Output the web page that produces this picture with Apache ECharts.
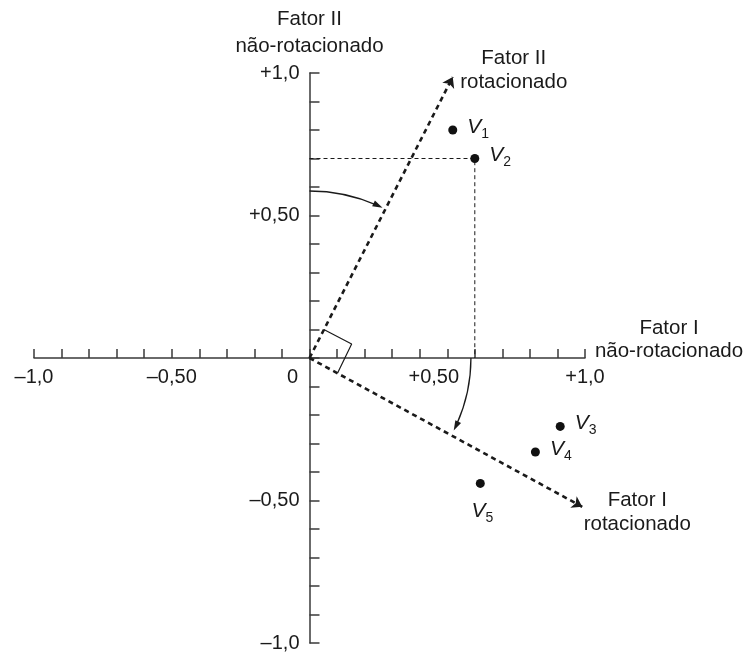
<!DOCTYPE html>
<html><head><meta charset="utf-8">
<script src="https://cdn.jsdelivr.net/npm/echarts@6/dist/echarts.min.js"></script>
<style>html,body{margin:0;padding:0;background:#fff}#c{width:746px;height:655px}</style>
</head><body><div id="c"></div>
<script>
// ---- data ----
const xTickValues = [-1, -0.5, 0, 0.5, 1];
const xTickLabels = ['–1,0', '–0,50', '0', '+0,50', '+1,0'];
const yTickValues = [-1, -0.5, 0, 0.5, 1];
const yTickLabels = ['–1,0', '–0,50', '', '+0,50', '+1,0'];
const xAxisTitle = ['Fator I', 'não-rotacionado'];
const yAxisTitle = 'Fator II\nnão-rotacionado';
const variableNames = ['V1', 'V2', 'V3', 'V4', 'V5'];
const variableX = [0.52, 0.60, 0.91, 0.82, 0.62];
const variableY = [0.80, 0.70, -0.24, -0.33, -0.44];
const rotatedNames = ['Fator I\nrotacionado', 'Fator II\nrotacionado'];
const rotatedTipX = [0.99, 0.52];
const rotatedTipY = [-0.522, 0.986];
const rightAngleX = [0.052, 0.153, 0.102];
const rightAngleY = [0.100, 0.049, -0.053];
const arcStartX = [0, 0.586];
const arcStartY = [0.586, 0];
const arcEndX = [0.265, 0.518];
const arcEndY = [0.527, -0.252];

// ---- styles / layout ----
const FONT = '"Liberation Sans", Arial, Helvetica, sans-serif';
const INK = '#1a1a1a';
const AXIS = '#3a3a3a';
const GRID = {left: 34, right: 161, top: 73, bottom: 12};
const W = 746, H = 655;
const gridW = W - GRID.left - GRID.right;
const gridH = H - GRID.top - GRID.bottom;
const labelPlacement = ['right', 'right', 'right', 'right', 'bottom'];
const rotatedLabelOffsets = [[55, 6], [61, -7]];

function findIdx(arr, v) { return arr.findIndex(t => Math.abs(t - v) < 1e-6); }

const chart = echarts.init(document.getElementById('c'), null, {renderer: 'canvas'});

const option = {
  backgroundColor: '#fff',
  animation: false,
  grid: Object.assign({containLabel: false, outerBoundsMode: 'none'}, GRID),
  xAxis: {
    type: 'value', min: -1, max: 1, interval: 0.1,
    position: 'bottom', offset: -gridH / 2,
    name: '{a|' + xAxisTitle[0] + '}\n{a|' + xAxisTitle[1] + '}\n{p| }',
    nameLocation: 'end', nameGap: 84, nameMoveOverlap: false,
    nameTextStyle: {fontFamily: FONT, fontSize: 20.5, color: INK,
      align: 'center', verticalAlign: 'middle',
      rich: {
        a: {fontFamily: FONT, fontSize: 20.5, lineHeight: 23, color: INK, align: 'center'},
        p: {fontFamily: FONT, fontSize: 10, lineHeight: 37, color: INK, align: 'center'}
      }},
    axisLine: {onZero: false, lineStyle: {color: AXIS, width: 1.5}},
    axisTick: {inside: true, length: 9, lineStyle: {color: AXIS, width: 1.5}},
    splitLine: {show: false},
    axisLabel: {
      margin: 9, fontFamily: FONT, fontSize: 20, color: INK, hideOverlap: false,
      formatter: function (v) {
        const i = findIdx(xTickValues, v);
        if (i < 0) return '';
        const key = Math.abs(v) < 1e-6 ? 'z' : (Math.abs(v - 0.5) < 1e-6 ? 'h' : 'n');
        return '{' + key + '|' + xTickLabels[i] + '}';
      },
      rich: {
        n: {fontFamily: FONT, fontSize: 20, color: INK},
        z: {fontFamily: FONT, fontSize: 20, color: INK, padding: [0, 34, 0, 0]},
        h: {fontFamily: FONT, fontSize: 20, color: INK, padding: [0, 27, 0, 0]}
      }
    }
  },
  yAxis: {
    type: 'value', min: -1, max: 1, interval: 0.1,
    position: 'left', offset: -gridW / 2,
    name: yAxisTitle, nameLocation: 'end', nameGap: 13, nameMoveOverlap: false,
    nameTextStyle: {fontFamily: FONT, fontSize: 20.5, lineHeight: 27, color: INK,
      align: 'center', verticalAlign: 'bottom'},
    axisLine: {onZero: false, lineStyle: {color: AXIS, width: 1.5}},
    axisTick: {inside: true, length: 10, lineStyle: {color: AXIS, width: 1.5}},
    splitLine: {show: false},
    axisLabel: {
      margin: 10, fontFamily: FONT, fontSize: 20, color: INK, hideOverlap: false,
      formatter: function (v) {
        const i = findIdx(yTickValues, v);
        return i < 0 ? '' : yTickLabels[i];
      }
    }
  },
  series: [
    // projection lines of V2 onto the axes
    {
      type: 'line', symbol: 'none', silent: true, z: 2,
      data: [[0, variableY[1]], [variableX[1], variableY[1]], [variableX[1], 0]],
      lineStyle: {color: INK, width: 1, type: [4, 3]}
    },
    // right-angle marker
    {
      type: 'line', symbol: 'none', silent: true, z: 2,
      data: rightAngleX.map((x, i) => [x, rightAngleY[i]]),
      lineStyle: {color: INK, width: 1.2}
    },
    // rotated factor axes
    {
      type: 'lines', coordinateSystem: 'cartesian2d', silent: true, z: 3,
      symbol: ['none', 'arrow'], symbolSize: [7, 10],
      data: rotatedTipX.map((x, i) => ({coords: [[0, 0], [x, rotatedTipY[i]]]})),
      lineStyle: {color: INK, width: 2.6, type: [5, 4], opacity: 1}
    },
    // labels of rotated axes
    {
      type: 'scatter', symbolSize: 0, silent: true, z: 4,
      itemStyle: {opacity: 1, color: INK},
      data: rotatedTipX.map((x, i) => ({
        value: [x, rotatedTipY[i]], name: rotatedNames[i],
        label: {offset: rotatedLabelOffsets[i]}
      })),
      label: {
        show: true, position: 'inside', formatter: p => p.name,
        fontFamily: FONT, fontSize: 20.5, lineHeight: 24, color: INK,
        align: 'center', verticalAlign: 'middle'
      }
    },
    // rotation arcs with arrowheads
    {
      type: 'custom', silent: true, z: 3,
      encode: {x: [0, 2], y: [1, 3]},
      data: arcStartX.map((x, i) => [x, arcStartY[i], arcEndX[i], arcEndY[i]]),
      renderItem: function (params, api) {
        const o = api.coord([0, 0]);
        const s = api.coord([api.value(0), api.value(1)]);
        const e = api.coord([api.value(2), api.value(3)]);
        const r = Math.hypot(s[0] - o[0], s[1] - o[1]);
        const a0 = Math.atan2(s[1] - o[1], s[0] - o[0]);
        const a1 = Math.atan2(e[1] - o[1], e[0] - o[0]);
        const headLen = 10, headW = 3.2;
        const tip = [o[0] + r * Math.cos(a1), o[1] + r * Math.sin(a1)];
        const tx = -Math.sin(a1), ty = Math.cos(a1);
        const base = [tip[0] - tx * headLen, tip[1] - ty * headLen];
        const nx = -ty, ny = tx;
        return {
          type: 'group',
          children: [
            {type: 'arc', shape: {cx: o[0], cy: o[1], r: r, startAngle: a0, endAngle: a1 - (headLen * 0.7) / r, clockwise: true},
             style: {stroke: INK, lineWidth: 1.3, fill: 'none'}},
            {type: 'polygon', shape: {points: [tip, [base[0] + nx * headW, base[1] + ny * headW], [base[0] - nx * headW, base[1] - ny * headW]]},
             style: {fill: INK}}
          ]
        };
      }
    },
    // variables
    {
      type: 'scatter', symbolSize: 9, z: 5,
      itemStyle: {color: '#111', opacity: 1},
      data: variableNames.map((n, i) => ({
        name: n, value: [variableX[i], variableY[i]],
        label: {position: labelPlacement[i], offset: labelPlacement[i] === 'right' ? [1, -3] : [2, 0]}
      })),
      label: {
        show: true, distance: 9, color: INK,
        formatter: p => '{v|' + p.name.charAt(0) + '}{s|' + p.name.slice(1) + '}',
        rich: {
          v: {fontFamily: FONT, fontSize: 21, fontStyle: 'italic', color: INK, lineHeight: 28, verticalAlign: 'middle'},
          s: {fontFamily: FONT, fontSize: 14, color: INK, lineHeight: 12, verticalAlign: 'bottom'}
        }
      }
    }
  ]
};
chart.setOption(option);
</script>
</body></html>
